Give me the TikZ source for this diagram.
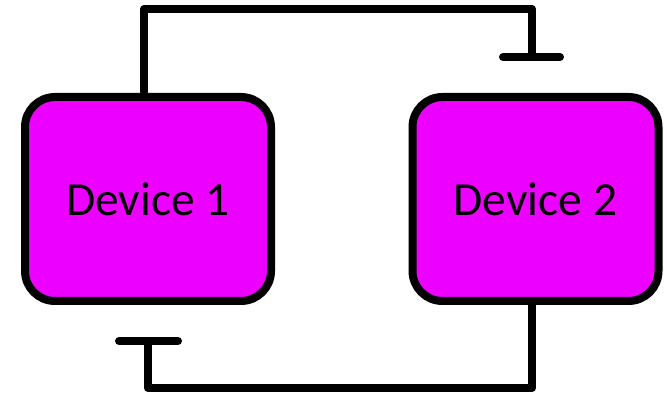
\documentclass[tikz,border=0pt]{standalone}
\usepackage{fontspec}
\setmainfont{Carlito}
\definecolor{devfill}{RGB}{236,0,255}
\begin{document}
\begin{tikzpicture}[x=1pt,y=-1pt,
  device/.style={draw=black, fill=devfill, line width=8pt, rounded corners=30pt,
    minimum width=246pt, minimum height=204pt, outer sep=0pt, inner sep=0pt,
    font=\fontsize{47.5}{56}\selectfont},
  wire/.style={draw=black, line width=8pt, line join=round, line cap=round}]
\useasboundingbox (0,0) rectangle (667,395);
\node[device] (d1) at (148,199) {Device 1};
\node[device] (d2) at (535.5,199) {Device 2};
% top connector with T end
\coordinate (tl) at (144,9);
\coordinate (tr) at (532,9);
\coordinate (tt) at (532,57);
\coordinate (tba) at (503,57);
\coordinate (tbb) at (560,57);
\draw[wire, line cap=butt] ([xshift=-4pt]d1.north) -- (tl) -- (tr) -- (tt);
\draw[wire] (tba) -- (tbb);
% bottom connector with T end
\coordinate (br) at (532,388);
\coordinate (bl) at (148,388);
\coordinate (bt) at (148,341);
\coordinate (bba) at (119,341);
\coordinate (bbb) at (178,341);
\draw[wire, line cap=butt] ([xshift=-3.5pt]d2.south) -- (br) -- (bl) -- (bt);
\draw[wire] (bba) -- (bbb);
\end{tikzpicture}
\end{document}
